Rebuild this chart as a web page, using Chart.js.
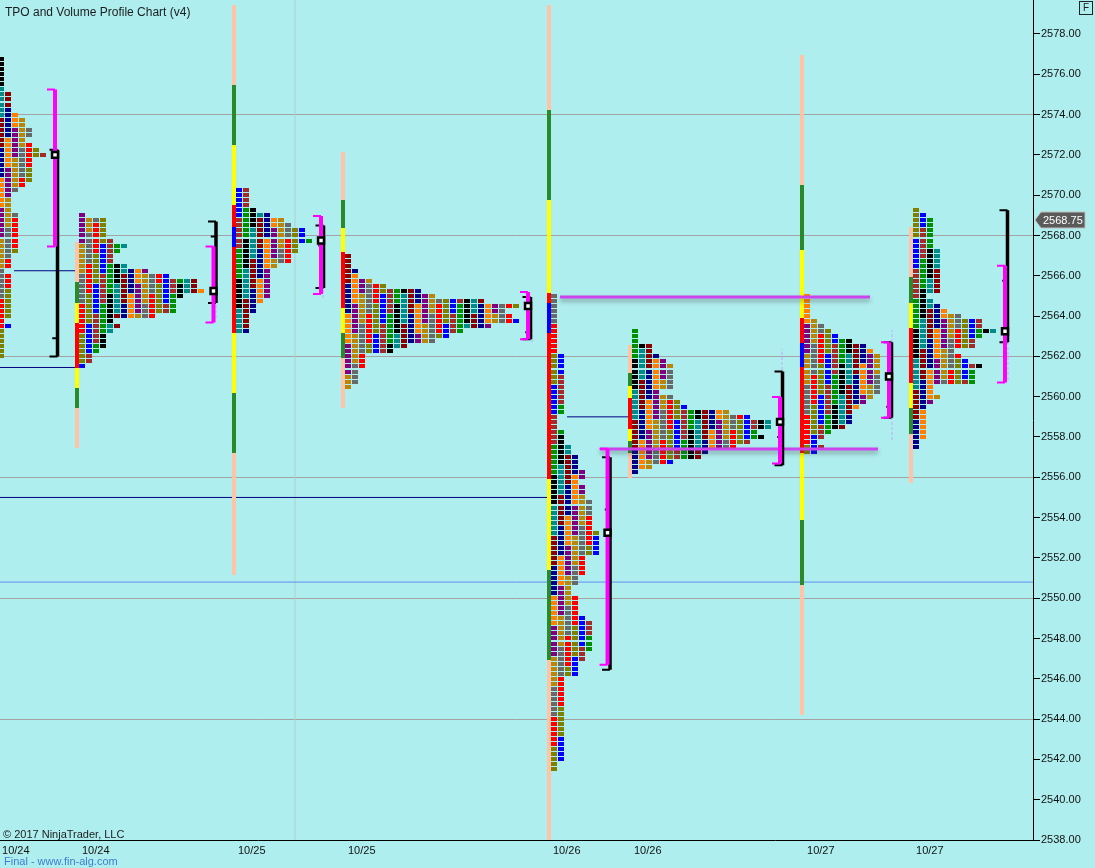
<!DOCTYPE html>
<html><head><meta charset="utf-8">
<script src="https://cdn.jsdelivr.net/npm/chart.js@4/dist/chart.umd.min.js"></script>
<style>
html,body{margin:0;padding:0;background:#AFEEEE;}
#wrap{position:relative;width:1095px;height:868px;overflow:hidden;}
canvas{display:block;}
.t{position:absolute;font-family:"Liberation Sans",Arial,sans-serif;white-space:nowrap;line-height:1;}
</style></head><body>
<div id="wrap"><canvas id="c" width="1095" height="868"></canvas>
<div class="t" style="left:5px;top:6px;font-size:12px;color:#1c1c1c;">TPO and Volume Profile Chart (v4)</div>
<div class="t" style="left:3px;top:829px;font-size:11px;color:#1c1c1c;">© 2017 NinjaTrader, LLC</div>
<div class="t" style="left:4px;top:856px;font-size:11px;color:#3C7FD0;">Final - www.fin-alg.com</div>
<div class="t" style="left:1079px;top:1px;width:12px;height:12px;border:1px solid #222;font-size:10px;color:#222;text-align:center;line-height:12px;">F</div>
</div>
<script>
// ---------------- data ----------------
const yTicks = [2538,2540,2542,2544,2546,2548,2550,2552,2554,2556,2558,2560,2562,2564,2566,2568,2570,2572,2574,2576,2578];
const xTickPos = [0.29, 11.71, 34.0, 49.71, 79.0, 90.57, 115.29, 130.86];
const xTickLabels = ['10/24','10/24','10/25','10/25','10/26','10/26','10/27','10/27'];
const lastPrice = 2568.75;

// TPO profiles: left edge (column units), top price, row widths (0.25 steps, top -> bottom)
const profStart = [-0.29, 11.29, 33.71, 49.29, 78.71, 90.29, 114.86, 130.43];
const profTop   = [2576.75, 2569.0, 2570.25, 2567.0, 2565.0, 2563.25, 2565.0, 2569.25];
const profA = [1,1,1,1,1,1,1,2,2,2,2,3,4,4,5,5,4,5,6,7,5,5,5,5,5,4,3,2,2,2,2,3,3,3,3,3,3,3,3,2,2,2,1,2,2,2,2,2,2,2,2,2,1,2,1,1,1,1,1,1];
const profB = [1,4,4,4,4,5,7,6,5,5,7,10,13,17,17,18,15,14,14,14,11,5,6,5,4,4,4,3,2,2,1];
const profC = [2,2,2,2,3,5,7,8,10,10,11,9,9,8,8,6,5,5,5,5,5,5,4,3,3,2,2,2,2];
const profD = [1,1,1,2,2,4,6,11,13,20,25,23,24,25,21,17,15,13,9,7,3,3,3,2,2,2,1];
const profE = [1,1,1,1,1,1,1,1,1,1,1,1, 2,2,2,2,2,2,2,2,2,2,2,2, 1,1,1, 2,2,2, 3,3, 4,4,4, 5,5, 4, 5,5,5, 6,6,6,6,6,6, 7,7,7,7,7, 5,5,5,5, 4,4, 3,3, 4,4,4,4, 5, 6,6,6,6,6,6, 5,5, 4,4,4, 2,2,2,2,2,2,2,2,2,2,2,2,2,2,2,2,2, 1,1];
const profF = [1,1,1,3,3,4,5,6,6,6,6,6,4,6,7,8,14,17,20,20,18,19,17,15,11,10,6,3,1];
const profG = [1,1,1,1,1,2,3,4,5,7,9,10,11,11,11,11,11,11,11,11,10,9,8,7,7,7,6,4,3,2,3,2];
const profH = [1,2,3,3,3,3,3,3,4,4,4,4,4,4,4,4,4,2,3,4,5,7,10,10,12,10,9,9,6,7,8,10,9,9,9,3,3,4,3,2,2,2,2,2,2,2,1,1];
const profiles = [profA, profB, profC, profD, profE, profF, profG, profH];

// session range bars (sessions B..H): [low, high]
const barX      = [11.0, 33.43, 49.0, 78.43, 90.0, 114.57, 130.14];
const barSalmon = [[2557.45,2567.68],[2551.15,2579.44],[2559.44,2572.14],[2538.0,2579.44],[2555.97,2562.57],[2544.2,2576.96],[2555.72,2568.42]];
const barGreen  = [[2559.44,2565.69],[2557.2,2575.47],[2561.92,2569.76],[2546.93,2574.23],[2557.2,2561.18],[2550.65,2570.5],[2558.15,2565.94]];
const barYellow = [[2560.43,2564.65],[2560.18,2572.49],[2563.16,2568.37],[2551.4,2569.76],[2557.8,2560.53],[2553.88,2567.28],[2559.44,2564.65]];
const barRed    = [[2561.42,2563.66],[2563.16,2569.51],[2564.4,2567.18],[2555.92,2565.15],[2558.4,2559.94],[2557.2,2563.9],[2560.68,2563.41]];
const barBlue   = [null,[2567.43,2568.42],null,[2563.16,2564.65],null,[2561.47,2562.67],null];

// brackets (sessions A..H)
const bracketX = [7.86, 30.5, 45.86, 75.43, 86.79, 111.43, 127.0, 143.57];
const vaHigh   = [2575.25, 2567.45, 2568.97, 2565.2, 2557.42, 2559.98, 2562.7, 2566.5];
const vaLow    = [2567.45, 2563.68, 2565.1, 2562.85, 2546.7, 2556.68, 2558.95, 2560.7];
const rngHigh  = [2572.25, 2568.7, 2568.5, 2564.95, 2557.0, 2561.25, 2562.7, 2569.25];
const rngLow   = [2562.0, 2564.65, 2565.4, 2562.85, 2546.45, 2556.6, 2558.95, 2562.7];
const rngMid   = [2562.9, 2567.95, 2567.5, 2563.2, 2554.4, 2558.0, 2559.5, 2565.75];
const pocPrice = [2572.0, 2565.25, 2567.75, 2564.5, 2553.25, 2558.75, 2561.0, 2563.25];
// faint developing-range traces next to the brackets: [x, low, high]
const devTraces = [[30.86, 2563.9, 2564.65],[46.14, 2564.9, 2565.4],[76.0, 2562.7, 2563.4],[111.71, 2561.33, 2562.37],
                   [127.43, 2562.7, 2563.3],[127.43, 2557.85, 2558.94],[144.0, 2560.83, 2562.67]];

// reference lines
const navyLines   = [[2.0, 11.14, 2566.25],[0, 11.14, 2561.45],[0, 78.29, 2555.0],[81.0, 90.14, 2559.0]];
const blueLines   = [[0, 147.57, 2550.8]];
const purpleLines = [[80.0, 124.29, 2564.95],[85.71, 125.43, 2557.4]];
const sepX = [42.14];

// ---------------- styles ----------------
const palette = ['#000000','#008B8B','#8B0000','#00008B','#FF8000','#800080','#B8860B','#696969','#FF0000','#808000','#0000FF','#A52A2A','#009000'];
const FONT = '"Liberation Sans", Arial, sans-serif';
const TICKLEN = 1.143; // 8px in column units
const XMAX = 147.571;

// ---------------- build datasets ----------------
const datasets = [];
function lineDS(data, color, width, order, extra) {
  return Object.assign({ data, showLine:true, borderColor:color, backgroundColor:color, borderWidth:width,
    pointRadius:0, pointHoverRadius:0, pointHitRadius:0, spanGaps:false, tension:0,
    borderCapStyle:'butt', borderJoinStyle:'miter', order }, extra||{});
}
// separator
datasets.push(lineDS(sepX.flatMap(x=>[{x,y:2538},{x,y:2579.69},{x,y:null}]), '#B9C9C9', 1, 100));
// reference lines
datasets.push(lineDS(navyLines.flatMap(l=>[{x:l[0],y:l[2]},{x:l[1],y:l[2]},{x:l[1],y:null}]), '#000080', 1, 90));
datasets.push(lineDS(blueLines.flatMap(l=>[{x:l[0],y:l[2]},{x:l[1],y:l[2]},{x:l[1],y:null}]), '#5F8FF0', 1, 91));
// session bars
function barDS(arr, color, order) {
  const d = [];
  arr.forEach((r,i)=>{ if (r) d.push({x:barX[i],y:r[0]},{x:barX[i],y:r[1]},{x:barX[i],y:null}); });
  return lineDS(d, color, 4, order);
}
datasets.push(barDS(barSalmon, '#FFC4A6', 80));
datasets.push(barDS(barGreen,  '#2A8A2A', 79));
datasets.push(barDS(barYellow, '#FFFF00', 78));
datasets.push(barDS(barRed,    '#FF0000', 77));
datasets.push(barDS(barBlue,   '#0000FF', 76));
// TPO profiles
profiles.forEach((w, p) => {
  const pts = [], cols = [];
  w.forEach((n, r) => {
    for (let k = 0; k < n; k++) {
      pts.push({x: profStart[p] + k, y: profTop[p] - r*0.25});
      cols.push(palette[(p*5 + k + Math.floor((r + 2*k) / 6)) % palette.length]);
    }
  });
  datasets.push({ data: pts, tpoColors: cols, pointRadius:0, pointHoverRadius:0, pointHitRadius:0, showLine:false, order:50 });
});
// faint developing traces
datasets.push(lineDS(devTraces.flatMap(t=>[{x:t[0],y:t[1]},{x:t[0],y:t[2]},{x:t[0],y:null}]), '#B6CCF2', 2, 45, {borderDash:[3,2]}));
// purple naked lines (drawn over profiles)
datasets.push(lineDS(purpleLines.flatMap(l=>[{x:l[0],y:l[2]},{x:l[1],y:l[2]},{x:l[1],y:null}]), '#CC44EE', 3, 40, {shadow:true}));
// range brackets (black)
const RX = 0.357;
datasets.push(lineDS(bracketX.flatMap((x,i)=>[{x:x+RX,y:rngHigh[i]},{x:x+RX,y:rngLow[i]},{x:x+RX,y:null}]), '#000000', 3.5, 31));
datasets.push(lineDS(bracketX.flatMap((x,i)=>[
  {x:x+RX-TICKLEN,y:rngHigh[i]},{x:x+RX,y:rngHigh[i]},{x:x+RX,y:null},
  {x:x+RX-TICKLEN,y:rngLow[i]},{x:x+RX,y:rngLow[i]},{x:x+RX,y:null},
  {x:x+RX-0.75,y:rngMid[i]},{x:x+RX,y:rngMid[i]},{x:x+RX,y:null}]), '#000000', 2, 30));
// value-area brackets (magenta)
datasets.push(lineDS(bracketX.flatMap((x,i)=>[{x,y:vaHigh[i]},{x,y:vaLow[i]},{x,y:null}]), '#FF00FF', 4, 21));
datasets.push(lineDS(bracketX.flatMap((x,i)=>[
  {x:x-TICKLEN,y:vaHigh[i]},{x,y:vaHigh[i]},{x,y:null},
  {x:x-TICKLEN,y:vaLow[i]},{x,y:vaLow[i]},{x,y:null}]), '#FF00FF', 2, 20));
// POC markers
datasets.push({ data: bracketX.map((x,i)=>({x, y:pocPrice[i]})), pointStyle:'rect', pointRadius:4.2, pointHoverRadius:4.2,
  borderWidth:2.5, borderColor:'#000', backgroundColor:'#FFFFFF', showLine:false, order:10 });

// ---------------- plugins ----------------
const bgPlugin = { id:'bg', beforeDraw(c){ const x=c.ctx; x.save(); x.fillStyle='#AFEEEE'; x.fillRect(0,0,c.width,c.height); x.restore(); } };
const tpoPlugin = {
  id:'tpo',
  beforeDatasetDraw(c, a){ const ds=c.data.datasets[a.index]; if (ds.shadow){ const x=c.ctx; x.save(); x.shadowColor='rgba(60,60,60,0.45)'; x.shadowBlur=4; x.shadowOffsetY=3; } },
  afterDatasetDraw(c, a){
    const ds=c.data.datasets[a.index]; const x=c.ctx;
    if (ds.shadow) { x.restore(); }
    if (!ds.tpoColors) return;
    const ca=c.chartArea;
    x.save(); x.beginPath(); x.rect(ca.left, ca.top, ca.right-ca.left, ca.bottom-ca.top); x.clip();
    a.meta.data.forEach((el,i)=>{ x.fillStyle=ds.tpoColors[i]; x.fillRect(Math.round(el.x), Math.round(el.y)-2, 6, 4); });
    x.restore();
  }
};
const markerPlugin = {
  id:'marker',
  afterDraw(c){
    const ys=c.scales.y, x=c.ctx; const y=Math.round(ys.getPixelForValue(lastPrice));
    const l=ys.left+2, r=ys.left+52;
    x.save(); x.beginPath(); x.moveTo(l,y); x.lineTo(l+6,y-8); x.lineTo(r,y-8); x.lineTo(r,y+8); x.lineTo(l+6,y+8); x.closePath();
    x.fillStyle='#5A5A5A'; x.fill(); x.strokeStyle='#BFBFBF'; x.lineWidth=1; x.stroke();
    x.fillStyle='#FFFFFF'; x.font='11px '+FONT; x.textBaseline='middle'; x.fillText(lastPrice.toFixed(2), l+8, y+1);
    x.restore();
  }
};

new Chart(document.getElementById('c'), {
  type:'scatter',
  data:{ datasets },
  options:{
    responsive:false, animation:false, devicePixelRatio:1, events:[],
    layout:{ padding:0, autoPadding:false },
    plugins:{ legend:{display:false}, tooltip:{enabled:false}, title:{display:false} },
    scales:{
      x:{ type:'linear', position:'bottom', min:0, max:XMAX,
        afterBuildTicks: s => { s.ticks = xTickPos.map(v=>({value:v})); },
        afterFit: s => { s.height = 28; s.paddingLeft = 0; s.paddingRight = 0; },
        grid:{ display:false, drawTicks:false },
        border:{ display:true, color:'#000', width:1 },
        ticks:{ autoSkip:false, maxRotation:0, minRotation:0, align:'start', padding:4, color:'#111',
          font:{ family:FONT, size:11 }, callback:(v,i)=>xTickLabels[i] } },
      y:{ type:'linear', position:'right', min:2538, max:2579.687,
        afterBuildTicks: s => { s.ticks = yTicks.map(v=>({value:v})); },
        afterFit: s => { s.width = 62; s.paddingTop = 0; s.paddingBottom = 0; },
        grid:{ drawOnChartArea:true, drawTicks:true, tickLength:7, tickColor:'#000', tickWidth:1, lineWidth:1,
          color: c => (c.tick && c.tick.value % 6 === 0) ? '#A3A3A3' : 'rgba(0,0,0,0)' },
        border:{ display:true, color:'#000', width:1 },
        ticks:{ padding:1, color:'#111', font:{ family:FONT, size:11 }, callback:v=>Number(v).toFixed(2) } }
    }
  },
  plugins:[bgPlugin, tpoPlugin, markerPlugin]
});
</script>
</body></html>
